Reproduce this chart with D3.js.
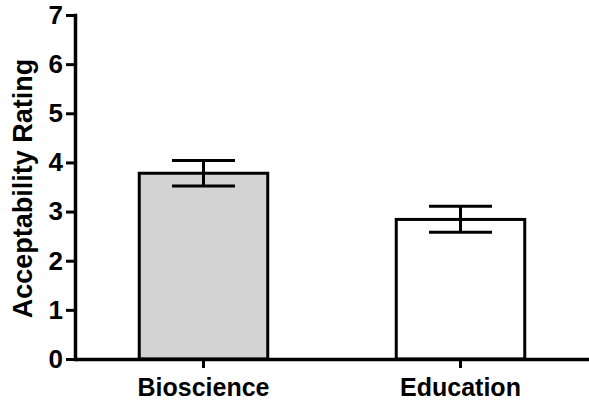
<!DOCTYPE html>
<html><head><meta charset="utf-8">
<script src="https://cdn.jsdelivr.net/npm/d3@7"></script>
<style>body{margin:0;background:#fff}svg{display:block}</style>
</head><body>
<svg id="c" width="589" height="401"></svg>
<script>
const categories = ["Bioscience", "Education"];
const means = [3.78, 2.84];
const errLow = [3.52, 2.58];
const errHigh = [4.04, 3.11];
const fills = ["#d3d3d3", "#ffffff"];
const yTicks = [0, 1, 2, 3, 4, 5, 6, 7];
const yTitle = "Acceptability Rating";

(function () {
const svg = d3.select("#c");
const mL = 75, mR = 589, mT = 15, mB = 359;
const x = d3.scaleBand().domain(categories).range([mL, mR]).paddingInner(0.5).paddingOuter(0.25);
const y = d3.scaleLinear().domain([0, 7]).range([mB, mT]);
const font = "'Liberation Sans', Arial, sans-serif";
const data = categories.map((c, i) => ({c, m: means[i], lo: errLow[i], hi: errHigh[i], f: fills[i]}));

svg.selectAll("rect.bar").data(data).join("rect")
  .attr("x", d => x(d.c)).attr("width", x.bandwidth())
  .attr("y", d => y(d.m)).attr("height", d => y(0) - y(d.m))
  .attr("fill", d => d.f).attr("stroke", "#000").attr("stroke-width", 3);

const capW = x.bandwidth() * 0.49;
const cx = d => x(d.c) + x.bandwidth() / 2;
const eg = svg.selectAll("g.err").data(data).join("g");
eg.append("line").attr("x1", cx).attr("x2", cx)
  .attr("y1", d => y(d.hi)).attr("y2", d => y(d.lo)).attr("stroke", "#000").attr("stroke-width", 3);
eg.append("line").attr("x1", d => cx(d) - capW/2).attr("x2", d => cx(d) + capW/2)
  .attr("y1", d => y(d.hi)).attr("y2", d => y(d.hi)).attr("stroke", "#000").attr("stroke-width", 3);
eg.append("line").attr("x1", d => cx(d) - capW/2).attr("x2", d => cx(d) + capW/2)
  .attr("y1", d => y(d.lo)).attr("y2", d => y(d.lo)).attr("stroke", "#000").attr("stroke-width", 3);

const ya = svg.append("g").attr("transform", `translate(${mL},0)`)
  .call(d3.axisLeft(y).tickValues(yTicks).tickFormat(d3.format("d")).tickSize(9).tickPadding(3).tickSizeOuter(0));
const xa = svg.append("g").attr("transform", `translate(0,${mB})`)
  .call(d3.axisBottom(x).tickSize(9).tickPadding(10).tickSizeOuter(0));
[ya, xa].forEach(a => {
  a.selectAll("path.domain").attr("stroke", "#000").attr("stroke-width", 3.5);
  a.selectAll(".tick line").attr("stroke", "#000").attr("stroke-width", 3);
  a.selectAll("text").attr("font-family", font).attr("font-weight", "bold").attr("fill", "#000");
});
ya.selectAll("text").attr("font-size", 26);
xa.selectAll("text").attr("font-size", 25);
ya.select("path.domain").attr("stroke-linecap", "square");

svg.append("text").attr("transform", `translate(32,${(58+319)/2}) rotate(-90)`)
  .attr("text-anchor", "middle").attr("font-family", font).attr("font-weight", "bold")
  .attr("font-size", 27).attr("fill", "#000").text(yTitle);
})();
</script>
</body></html>
